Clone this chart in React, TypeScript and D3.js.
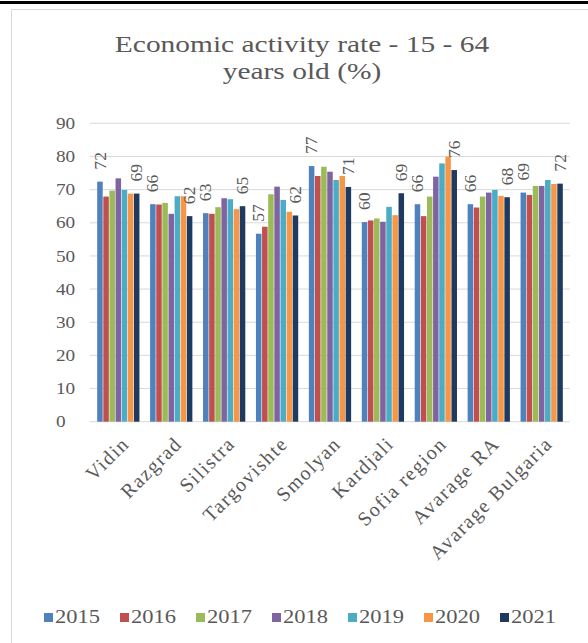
import React from "react";
import * as d3 from "d3";

const categories = [
  "Vidin",
  "Razgrad",
  "Silistra",
  "Targovishte",
  "Smolyan",
  "Kardjali",
  "Sofia region",
  "Avarage RA",
  "Avarage Bulgaria",
];

const years = ["2015", "2016", "2017", "2018", "2019", "2020", "2021"];

// one array per year, in the order of the categories
const v2015 = [72.4, 65.6, 62.9, 56.7, 77.1, 60.2, 65.6, 65.6, 69.1];
const v2016 = [67.9, 65.5, 62.7, 58.8, 74.1, 60.7, 62.0, 64.6, 68.4];
const v2017 = [69.7, 66.0, 64.7, 68.6, 76.9, 61.3, 67.9, 67.9, 71.1];
const v2018 = [73.4, 62.7, 67.4, 70.9, 75.4, 60.3, 73.9, 69.1, 71.1];
const v2019 = [69.9, 68.0, 67.1, 66.9, 72.9, 64.8, 77.9, 69.9, 72.9];
const v2020 = [68.8, 68.0, 64.1, 63.3, 74.1, 62.3, 79.9, 68.1, 71.7];
const v2021 = [68.8, 62.0, 65.0, 62.2, 70.8, 68.9, 75.9, 67.7, 71.8];

const series = [v2015, v2016, v2017, v2018, v2019, v2020, v2021];

const colors = ["#4F81BD", "#C0504D", "#9BBB59", "#8064A2", "#4BACC6", "#F79646", "#1F3A5F"];

const yTicks = [0, 10, 20, 30, 40, 50, 60, 70, 80, 90];

const titleLines = ["Economic activity rate - 15 - 64", "years old (%)"];

const W = 588;
const H = 643;
const FONT = "Liberation Serif, DejaVu Serif, serif";
const TEXT = "#595959";
// the serif type is drawn a little wider than its natural proportions
const SX = 1.25;

export default function App() {
  const x0 = d3
    .scaleBand<string>()
    .domain(categories)
    .range([90, 570])
    .paddingInner(0.19)
    .paddingOuter(0.13);
  const x1 = d3.scaleBand<string>().domain(years).range([0, x0.bandwidth()]).padding(0);
  const y = d3.scaleLinear().domain([0, 90]).range([421.7, 123.3]);

  const lastIdx = years.length - 1;

  return (
    <div style={{ position: "absolute", left: 0, top: 0 }}>
      <svg width={W} height={H} style={{ display: "block", background: "#fff", fontFamily: FONT }}>
        <rect x={0} y={1} width={W} height={3} fill="#000" />
        <rect x={11.5} y={9.5} width={600} height={650} fill="#fff" stroke="#d9d9d9" />

        {titleLines.map((t, i) => (
          <text
            key={t}
            transform={`translate(302,${52 + i * 27}) scale(1.28,1)`}
            textAnchor="middle"
            style={{ fontFamily: FONT }}
            fontSize={23}
            fill={TEXT}
          >
            {t}
          </text>
        ))}

        {yTicks.map((t) => (
          <g key={t}>
            <line x1={90} x2={570} y1={y(t)} y2={y(t)} stroke="#d9d9d9" strokeWidth={1} />
            <text
              transform={`translate(56,${y(t)}) scale(1.2,1)`}
              dy="0.35em"
              textAnchor="start"
              style={{ fontFamily: FONT }}
              fontSize={16}
              fill={TEXT}
            >
              {t}
            </text>
          </g>
        ))}

        {categories.map((c, ci) => (
          <g key={c} transform={`translate(${x0(c)},0)`}>
            {series.map((vals, si) => (
              <rect
                key={years[si]}
                x={x1(years[si])! + 0.3}
                y={y(vals[ci])}
                width={x1.bandwidth() - 0.6}
                height={y(0) - y(vals[ci])}
                fill={colors[si]}
              />
            ))}
            {[0, lastIdx].map((si) => {
              const cx = x1(years[si])! + x1.bandwidth() / 2;
              const ty = y(series[si][ci]) - 12;
              return (
                <text
                  key={si}
                  transform={`translate(${cx},${ty}) rotate(-90) scale(1.1,1)`}
                  dy="0.35em"
                  textAnchor="start"
                  style={{ fontFamily: FONT }}
                  fontSize={16}
                  fill={TEXT}
                >
                  {Math.round(series[si][ci])}
                </text>
              );
            })}
          </g>
        ))}

        {categories.map((c) => {
          const cx = x0(c)! + x0.bandwidth() / 2 + 12;
          return (
            <text
              key={c}
              transform={`translate(${cx},445) rotate(-45)`}
              textAnchor="end"
              style={{ fontFamily: FONT }}
              fontSize={20}
              letterSpacing={1.5}
              fill={TEXT}
            >
              {c}
            </text>
          );
        })}

        {years.map((yr, i) => {
          const lx = 44 + i * 76;
          return (
            <g key={yr}>
              <rect x={lx} y={613} width={9} height={9} fill={colors[i]} />
              <text
                transform={`translate(${lx + 11},623) scale(${SX},1)`}
                style={{ fontFamily: FONT }}
                fontSize={18}
                fill={TEXT}
              >
                {yr}
              </text>
            </g>
          );
        })}
      </svg>
    </div>
  );
}
